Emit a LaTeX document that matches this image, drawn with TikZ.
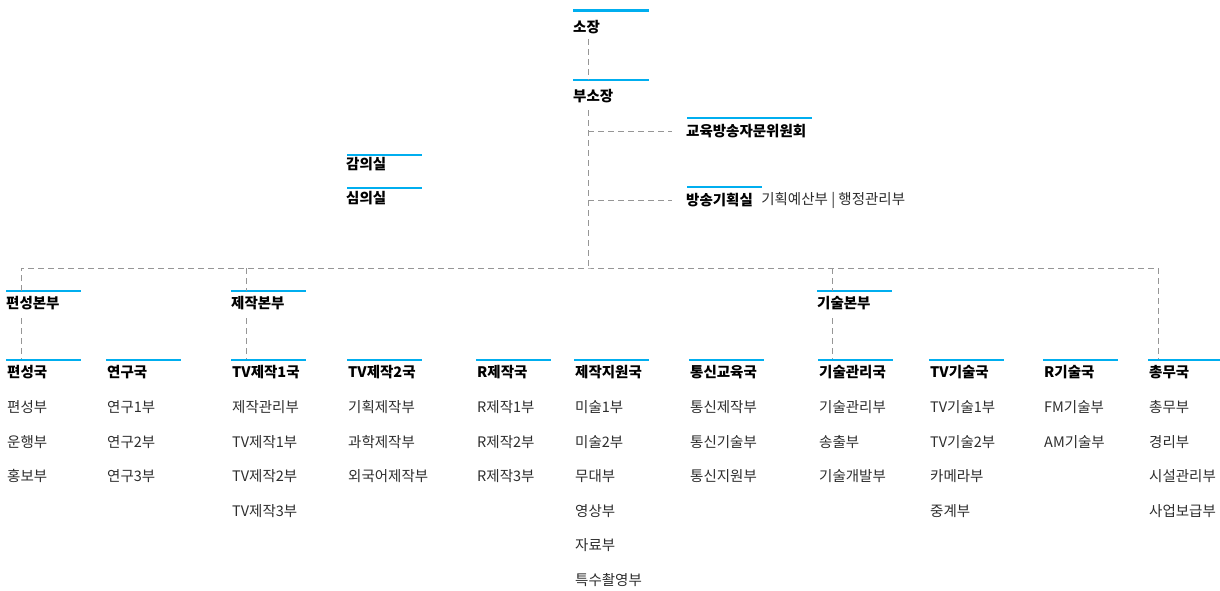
\documentclass[tikz,border=0pt]{standalone}
\usepackage{fontspec}
\setmainfont{Noto Sans CJK KR}
\definecolor{lineblue}{RGB}{0,174,239}
\definecolor{dashgray}{RGB}{150,150,150}
\definecolor{itemgray}{RGB}{45,45,45}
\newcommand\orgdept[4]{%
  \draw[blueline] (#2,360) -- ++(75,0);
  \node[head] (#1) at (#2+1,372) {#3};
  \foreach \t [count=\k] in {#4} {\node[item] (#1-\k) at (#2+1,{407+34.6*(\k-1)}) {\t};}
}
\begin{document}
\begin{tikzpicture}[x=1pt,y=-1pt,
  blueline/.style={draw=lineblue,line width=1.5pt},
  conn/.style={draw=dashgray,line width=1pt,dash pattern=on 6pt off 4pt},
  head/.style={anchor=west,inner sep=0pt,font=\fontsize{14.5}{17}\selectfont\bfseries},
  item/.style={anchor=west,inner sep=0pt,text=itemgray,font=\fontsize{14.5}{17}\selectfont}]
\useasboundingbox (0,0) rectangle (1220,590);
% top
\draw[blueline,line width=3pt] (573,10) -- (649,10);
\node[head] (sojang) at (573,27) {소장};
\draw[blueline] (573,80) -- (649,80);
\coordinate (bsj-top) at (588,80);
\node[head] (busojang) at (573,96) {부소장};
\draw[conn,shorten <=5pt] (sojang.south -| bsj-top) -- (bsj-top);
\coordinate (J) at (588,268);
\draw[conn,shorten <=7pt] (busojang.south -| J) -- (J);
\draw[blueline] (687,118) -- (812,118);
\node[head] (jamun) at (686,131) {교육방송자문위원회};
\draw[conn] (J |- jamun.west) -- ([xshift=-14pt]jamun.west);
\draw[blueline] (687,187) -- (762,187);
\node[head] (gihoek) at (686,200) {방송기획실};
\node[item] (gihoeksub) at ([xshift=8pt]gihoek.east) {기획예산부 | 행정관리부};
\draw[conn] (J |- gihoek.west) -- ([xshift=-14pt]gihoek.west);
% side offices
\draw[blueline] (347,155) -- (422,155);
\node[head] (gamui) at (346,164) {감의실};
\draw[blueline] (347,188) -- (422,188);
\node[head] (simui) at (346,198) {심의실};
% bonbu
\draw[blueline] (6,291) -- (81,291);
\coordinate (pb-top) at (21,291);
\node[head] (pyeonbonbu) at (6,303) {편성본부};
\draw[blueline] (231,291) -- (306,291);
\coordinate (jj-top) at (246,291);
\node[head] (jejakbonbu) at (231,303) {제작본부};
\draw[blueline] (817,291) -- (892,291);
\coordinate (gs-top) at (832,291);
\node[head] (gisulbonbu) at (817,303) {기술본부};
% department tops
\coordinate (pyeonseong-top) at (21,360);
\coordinate (tv1-top) at (246,360);
\coordinate (gisulgwanri-top) at (832,360);
\coordinate (chongmu-top) at (1158,360);
\draw[conn] (pb-top) |- (J) -| (chongmu-top);
\draw[conn] (J -| jj-top) -- (jj-top);
\draw[conn] (J -| gs-top) -- (gs-top);
\draw[conn,shorten <=8pt] (pyeonbonbu.south -| pyeonseong-top) -- (pyeonseong-top);
\draw[conn,shorten <=8pt] (jejakbonbu.south -| tv1-top) -- (tv1-top);
\draw[conn,shorten <=8pt] (gisulbonbu.south -| gisulgwanri-top) -- (gisulgwanri-top);
% departments
\orgdept{pyeonseong}{6}{편성국}{편성부,운행부,홍보부}
\orgdept{yeongu}{106}{연구국}{연구1부,연구2부,연구3부}
\orgdept{tvjejak1}{231}{TV제작1국}{제작관리부,TV제작1부,TV제작2부,TV제작3부}
\orgdept{tvjejak2}{347}{TV제작2국}{기획제작부,과학제작부,외국어제작부}
\orgdept{rjejak}{476}{R제작국}{R제작1부,R제작2부,R제작3부}
\orgdept{jiwon}{574}{제작지원국}{미술1부,미술2부,무대부,영상부,자료부,특수촬영부}
\orgdept{tongsin}{689}{통신교육국}{통신제작부,통신기술부,통신지원부}
\orgdept{gisulgwanri}{818}{기술관리국}{기술관리부,송출부,기술개발부}
\orgdept{tvgisul}{929}{TV기술국}{TV기술1부,TV기술2부,카메라부,중계부}
\orgdept{rgisul}{1043}{R기술국}{FM기술부,AM기술부}
\orgdept{chongmu}{1148}{총무국}{총무부,경리부,시설관리부,사업보급부}
\end{tikzpicture}
\end{document}
